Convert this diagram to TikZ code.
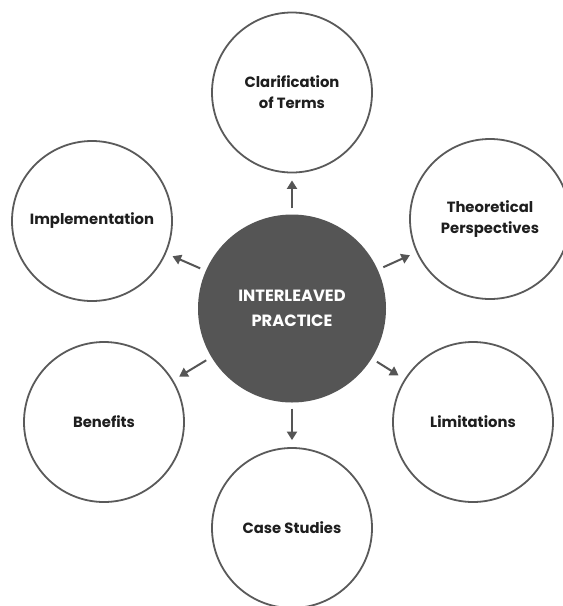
\documentclass[tikz,border=0pt]{standalone}
\usepackage{fontspec}
\setmainfont{Poppins}
\usetikzlibrary{arrows.meta}
\definecolor{hubgray}{HTML}{555555}
\definecolor{ringgray}{HTML}{5A5A5A}
\definecolor{labelink}{HTML}{1E1E1E}
\begin{document}
\begin{tikzpicture}[x=1pt,y=-1pt,
  topic/.style={circle, draw=ringgray, line width=1.8pt, fill=white,
    minimum size=160pt, inner sep=0pt, align=center, text=labelink,
    font=\fontsize{14.8}{21}\selectfont\bfseries},
  hub/.style={circle, fill=hubgray, minimum size=188pt, inner sep=0pt,
    align=center, text=white, font=\fontsize{16.3}{25}\selectfont\bfseries},
  link/.style={draw=hubgray, line width=2pt,
    -{Triangle[length=8.5pt,width=10pt]}, shorten <=6pt, shorten >=7pt}]
\useasboundingbox (0,0) rectangle (563,606);
\fill[white] (0,0) rectangle (563,606);

\node[hub] (hub) at (292,308.5) {INTERLEAVED\\PRACTICE};

\node[topic] (terms)  at (292,92.5) {Clarification\\of Terms};
\node[topic] (impl)   at (92,221)   {Implementation};
\node[topic] (theory) at (490,219)  {Theoretical\\Perspectives};
\node[topic] (ben)    at (104,422)  {Benefits};
\node[topic] (lim)    at (473,422)  {Limitations};
\node[topic] (cases)  at (292,528)  {Case Studies};

\foreach \t in {terms,impl,theory,ben,lim,cases}
  \draw[link] (hub) -- (\t);
\end{tikzpicture}
\end{document}
